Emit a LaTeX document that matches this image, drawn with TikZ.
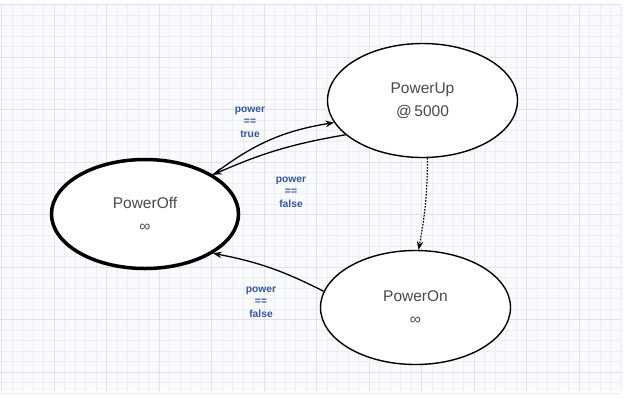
\documentclass[tikz,border=0pt]{standalone}
\usepackage{fontspec}
\setmainfont{Liberation Sans}
\usetikzlibrary{arrows.meta,shapes.geometric}
\definecolor{gridbg}{HTML}{F9FAFB}
\definecolor{gridminor}{HTML}{EBEEF1}
\definecolor{gridmajor}{HTML}{DFE3E7}
\definecolor{statetext}{HTML}{4A4A4A}
\definecolor{guard}{HTML}{34579A}
\tikzset{
  state/.style={ellipse, draw, line width=1.4pt, fill=white,
    minimum width=190pt, minimum height=114pt, inner sep=0pt,
    align=center, text=statetext, font=\fontsize{15.5}{23}\selectfont},
  initstate/.style={state, line width=3.5pt, minimum width=187pt, minimum height=109pt},
  trans/.style={line width=1.3pt, -{Stealth[length=8.5pt,width=6.5pt]}},
  lazytrans/.style={trans, line width=1.2pt, dash pattern=on 1.6pt off 1.4pt},
  guardlbl/.style={text=guard, font=\bfseries\fontsize{10.3}{12.5}\selectfont,
    align=center, inner sep=0pt}
}
\begin{document}
\begin{tikzpicture}[x=1pt,y=-1pt]
  \useasboundingbox (0,0) rectangle (626,400);
  \fill[white] (0,0) rectangle (626,400);
  \fill[gridbg] (0,5) rectangle (621,391);
  \foreach \i in {0,...,59} {
    \pgfmathsetmacro{\gx}{1.5+\i*10.5}
    \pgfmathtruncatemacro{\gm}{mod(\i,5)}
    \ifnum\gm=0
      \draw[gridmajor, line width=0.7pt] (\gx,5) -- (\gx,391);
    \else
      \draw[gridminor, line width=0.6pt] (\gx,5) -- (\gx,391);
    \fi
  }
  \foreach \j in {0,...,37} {
    \pgfmathsetmacro{\gy}{4.5+\j*10.5}
    \pgfmathtruncatemacro{\gm}{mod(\j,5)}
    \ifnum\gm=0
      \draw[gridmajor, line width=0.7pt] (0,\gy) -- (621,\gy);
    \else
      \draw[gridminor, line width=0.6pt] (0,\gy) -- (621,\gy);
    \fi
  }

  \node[initstate] (off) at (145,214) {PowerOff\\∞};
  \node[state] (up) at (422.5,100.5) {PowerUp\\@\,5000};
  \node[state] (on) at (415.5,307.5) {PowerOn\\∞};

  \draw[trans] (off.30) to[bend left=14] (up.-166);
  \draw[trans] (up.204) to[bend right=7] (off.30);
  \draw[lazytrans] (up.-85) to[bend left=5] (on.87.5);
  \draw[trans] (on.170) to[bend right=8] (off.-30);

  \node[guardlbl] (g1) at (250,122) {power\\==\\true};
  \node[guardlbl] (g2) at (291,192) {power\\==\\false};
  \node[guardlbl] (g3) at (261,302) {power\\==\\false};
\end{tikzpicture}
\end{document}
